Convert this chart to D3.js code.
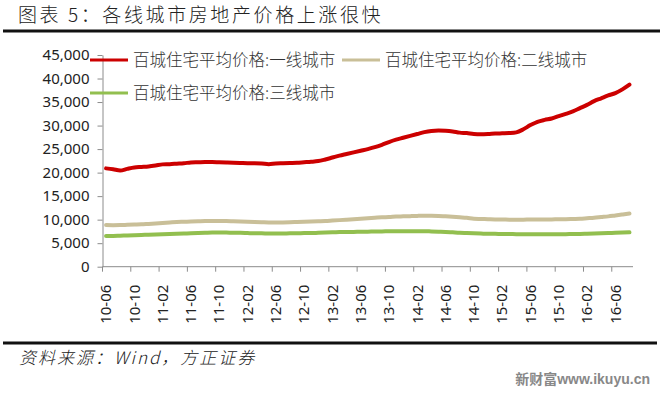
<!DOCTYPE html>
<html>
<head>
<meta charset="utf-8">
<script src="https://cdn.jsdelivr.net/npm/d3@7"></script>
<style>
  body { margin: 0; background: #fff; }
  svg { display: block; }
</style>
</head>
<body>
<div id="chart"></div>
<script>
var width = 660;
var height = 393;
var margin = { top: 55, right: 27, bottom: 126.3, left: 102.5 };

// monthly, 2010-06 .. 2016-08
var startYear = 2010, startMonth = 6, numMonths = 75;
var months = [];
for (var i = 0; i < numMonths; i++) {
  var m = startMonth - 1 + i;
  var yy = startYear + Math.floor(m / 12);
  var mm = (m % 12) + 1;
  months.push(String(yy).slice(2) + '-' + (mm < 10 ? '0' : '') + mm);
}

var tickLabels = ['10-06', '10-10', '11-02', '11-06', '11-10', '12-02', '12-06', '12-10',
  '13-02', '13-06', '13-10', '14-02', '14-06', '14-10', '15-02', '15-06', '15-10', '16-02', '16-06'];
var yTicks = [0, 5000, 10000, 15000, 20000, 25000, 30000, 35000, 40000, 45000];

var seriesNames = ['百城住宅平均价格:一线城市', '百城住宅平均价格:二线城市', '百城住宅平均价格:三线城市'];
var colors = ['#cc0000', '#c9bf98', '#92bf4f'];

var tier1 = [20900, 20700, 20450, 20800, 21100, 21200, 21300, 21500, 21750, 21800,
  21900, 22000, 22150, 22200, 22250, 22250, 22200, 22150, 22100, 22050,
  22000, 22000, 21950, 21800, 21950, 22000, 22050, 22100, 22200, 22300,
  22450, 22800, 23200, 23600, 23950, 24300, 24650, 25000, 25400, 25900,
  26500, 27000, 27400, 27800, 28200, 28600, 28850, 28950, 28900, 28750,
  28500, 28400, 28200, 28150, 28200, 28300, 28350, 28400, 28550, 29200,
  30100, 30800, 31200, 31500, 32000, 32500, 33000, 33700, 34400, 35200,
  35800, 36400, 36900, 37700, 38700];

var tier2 = [8850, 8830, 8850, 8900, 8950, 9000, 9100, 9200, 9300, 9400,
  9500, 9550, 9600, 9650, 9700, 9720, 9720, 9700, 9650, 9600,
  9550, 9500, 9450, 9400, 9400, 9420, 9450, 9500, 9550, 9600,
  9650, 9700, 9800, 9900, 10000, 10100, 10200, 10300, 10400, 10500,
  10550, 10650, 10700, 10750, 10800, 10830, 10830, 10800, 10700, 10600,
  10500, 10400, 10200, 10150, 10100, 10050, 10050, 10000, 10000, 10000,
  10050, 10050, 10050, 10050, 10100, 10100, 10150, 10200, 10300, 10400,
  10550, 10700, 10900, 11100, 11300];

var tier3 = [6550, 6550, 6600, 6650, 6700, 6750, 6800, 6850, 6900, 6950,
  7000, 7050, 7100, 7150, 7200, 7250, 7250, 7250, 7200, 7200,
  7150, 7100, 7100, 7050, 7050, 7050, 7100, 7100, 7150, 7150,
  7200, 7250, 7300, 7350, 7400, 7400, 7450, 7450, 7500, 7500,
  7550, 7550, 7550, 7550, 7550, 7550, 7500, 7450, 7400, 7300,
  7200, 7150, 7100, 7050, 7000, 7000, 6950, 6950, 6900, 6900,
  6900, 6900, 6900, 6900, 6900, 6900, 6950, 6950, 7000, 7050,
  7100, 7150, 7200, 7250, 7300];

var series = [tier1, tier2, tier3];

var svg = d3.select('#chart')
  .append('svg')
    .attr('width', width)
    .attr('height', height);

// title and rules
svg.append('text')
  .attr('x', 18)
  .attr('y', 22)
  .style('font-family', '"Noto Sans CJK SC", sans-serif')
  .style('font-size', '19px')
  .style('font-weight', 300)
  .style('letter-spacing', '2.6px')
  .style('fill', '#222')
  .text('图表 5：各线城市房地产价格上涨很快');

svg.append('line')
  .attr('x1', 3).attr('x2', 660).attr('y1', 31).attr('y2', 31)
  .style('stroke', '#111').style('stroke-width', 3);

svg.append('line')
  .attr('x1', 3).attr('x2', 657).attr('y1', 343).attr('y2', 343)
  .style('stroke', '#111').style('stroke-width', 3);

svg.append('text')
  .attr('x', 19)
  .attr('y', 364)
  .style('font-family', '"Noto Sans CJK SC", sans-serif')
  .style('font-size', '17px')
  .style('font-style', 'italic')
  .style('font-weight', 300)
  .style('letter-spacing', '2px')
  .style('fill', '#222')
  .text('资料来源：Wind，方正证券');

svg.append('text')
  .attr('x', 650)
  .attr('y', 384)
  .attr('text-anchor', 'end')
  .style('font-family', '"Liberation Sans", "Noto Sans CJK SC", sans-serif')
  .style('font-size', '14px')
  .style('font-weight', 'bold')
  .style('fill', '#888')
  .text('新财富www.ikuyu.cn');

// plot
var plotW = width - margin.left - margin.right;
var plotH = height - margin.top - margin.bottom;
var g = svg.append('g')
  .attr('transform', `translate(${margin.left}, ${margin.top})`);

var xScale = d3.scaleBand()
  .domain(months)
  .range([0, plotW])
  .padding(0);

var yScale = d3.scaleLinear()
  .domain([0, 45000])
  .range([plotH, 0]);

var axisColor = '#8c8c8c';
var tickFont = '"Noto Sans", sans-serif';

var yAxis = g.append('g')
  .call(d3.axisLeft(yScale).tickValues(yTicks).tickFormat(d3.format(',')).tickSize(5).tickSizeOuter(0).tickPadding(8));
yAxis.select('.domain').style('stroke', axisColor);
yAxis.selectAll('.tick line').style('stroke', axisColor);
yAxis.selectAll('text')
  .style('font-family', tickFont)
  .style('font-size', '15px')
  .style('fill', '#222');

// x axis: ticks on band boundaries every 4 months, labels at band centres
var xAxis = g.append('g').attr('transform', `translate(0, ${plotH})`);
xAxis.append('line')
  .attr('x1', 0).attr('x2', plotW)
  .style('stroke', axisColor);
xAxis.selectAll('.xtick')
  .data(tickLabels)
  .enter()
  .append('line')
    .attr('class', 'xtick')
    .attr('x1', d => xScale(d))
    .attr('x2', d => xScale(d))
    .attr('y1', 0)
    .attr('y2', 5)
    .style('stroke', axisColor);
xAxis.selectAll('.xlabel')
  .data(tickLabels)
  .enter()
  .append('text')
    .attr('class', 'xlabel')
    .attr('transform', d => `translate(${xScale(d) + xScale.bandwidth() / 2}, 18) rotate(-90)`)
    .attr('text-anchor', 'end')
    .attr('dy', '0.35em')
    .style('font-family', tickFont)
    .style('font-size', '15px')
    .style('fill', '#222')
    .text(d => d);

var line = d3.line()
  .x((d, i) => xScale(months[i]) + xScale.bandwidth() / 2)
  .y(d => yScale(d))
  .curve(d3.curveMonotoneX);

// draw tier 3 first so tier 1 sits on top
[2, 1, 0].forEach(function (k) {
  g.append('path')
    .datum(series[k])
    .attr('d', line)
    .style('fill', 'none')
    .style('stroke', colors[k])
    .style('stroke-width', 4)
    .style('stroke-linecap', 'round')
    .style('stroke-linejoin', 'round');
});

// legend
var legend = [
  { x: 90, y: 60 },
  { x: 342, y: 60 },
  { x: 90, y: 93 }
];
legend.forEach(function (p, k) {
  svg.append('line')
    .attr('x1', p.x).attr('x2', p.x + 38)
    .attr('y1', p.y).attr('y2', p.y)
    .style('stroke', colors[k])
    .style('stroke-width', 3);
  svg.append('text')
    .attr('x', p.x + 43)
    .attr('y', p.y)
    .attr('dy', '0.35em')
    .style('font-family', '"Noto Sans CJK SC", sans-serif')
    .style('font-size', '16.5px')
    .style('font-weight', 300)
    .style('fill', '#333')
    .text(seriesNames[k]);
});
</script>
</body>
</html>
